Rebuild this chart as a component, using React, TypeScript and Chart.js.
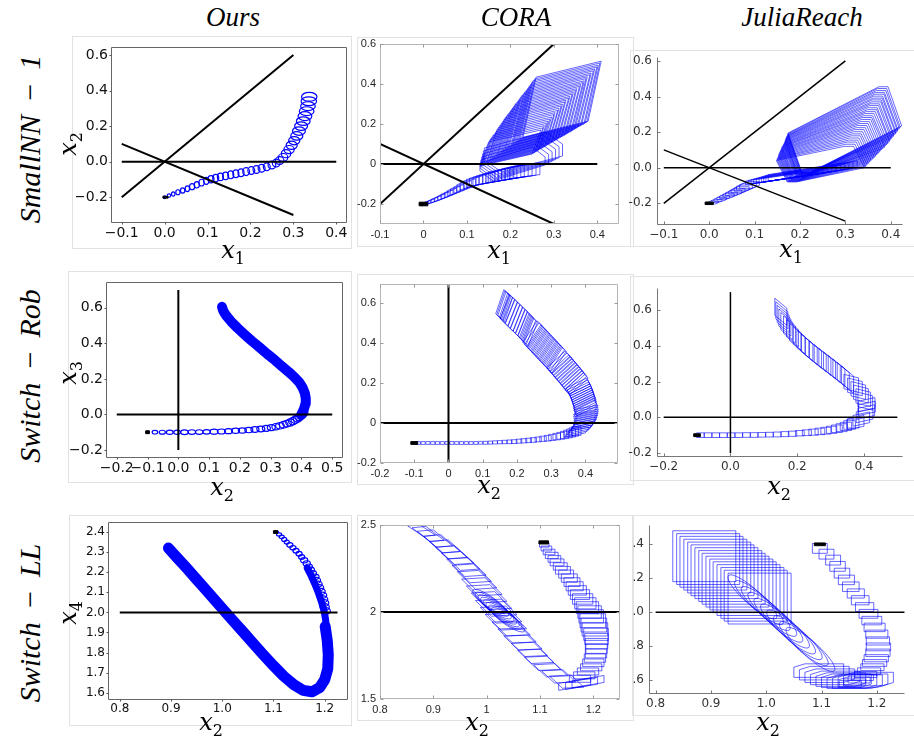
import { useEffect, useRef } from "react";
import { Chart, registerables } from "chart.js";
Chart.register(...registerables);

// ---------------- titles ----------------
const columnTitles = ["Ours", "CORA", "JuliaReach"];
const rowTitles = ["SmallNN − 1", "Switch − Rob", "Switch − LL"];

// ---------------- guide lines ----------------
const nnGuides = [
  { x: [-0.1, 0.3], y: [-0.2, 0.6] },
  { x: [-0.1, 0.3], y: [0.1, -0.3] },
  { x: [-0.1, 0.4], y: [0, 0] },
];
const robGuides = [
  { x: [0, 0], y: [-0.2, 0.7] },
  { x: [-0.2, 0.5], y: [0, 0] },
];
const llGuidesOurs = [{ x: [0.8, 1.225], y: [2, 2] }];
const llGuidesOthers = [{ x: [0.8, 1.25], y: [2, 2] }];

// ---------------- Ours : SmallNN-1 (ellipses) ----------------
const oursNNCx = [0.000,0.010,0.020,0.031,0.042,0.053,0.064,0.075,0.086,0.097,0.108,0.119,0.130,0.142,0.154,0.166,0.178,0.190,0.202,0.214,0.226,0.238,0.250,0.260,0.268,0.276,0.283,0.290,0.296,0.302,0.308,0.313,0.318,0.323,0.327,0.331,0.334,0.336,0.337];
const oursNNCy = [-0.200,-0.191,-0.182,-0.172,-0.162,-0.152,-0.141,-0.130,-0.118,-0.108,-0.099,-0.092,-0.086,-0.080,-0.074,-0.068,-0.062,-0.056,-0.050,-0.044,-0.037,-0.029,-0.019,-0.008,0.006,0.024,0.045,0.068,0.092,0.118,0.145,0.172,0.200,0.228,0.256,0.284,0.312,0.340,0.365];
const oursNNRx = [0.003,0.004,0.004,0.005,0.005,0.005,0.006,0.006,0.006,0.006,0.007,0.007,0.007,0.007,0.007,0.007,0.007,0.008,0.008,0.008,0.008,0.008,0.009,0.009,0.010,0.011,0.011,0.012,0.013,0.013,0.014,0.015,0.015,0.016,0.016,0.017,0.017,0.018,0.018];
const oursNNRy = [0.008,0.010,0.012,0.014,0.015,0.016,0.017,0.018,0.019,0.020,0.020,0.021,0.021,0.021,0.022,0.022,0.022,0.022,0.022,0.022,0.022,0.022,0.022,0.022,0.022,0.022,0.023,0.023,0.023,0.023,0.024,0.024,0.024,0.024,0.025,0.025,0.025,0.025,0.025];

// ---------------- Ours : Switch-Rob ----------------
const oursRobCx = [-0.100,-0.076,-0.052,-0.028,-0.004,0.020,0.044,0.068,0.092,0.116,0.140,0.163,0.186,0.208,0.229,0.249,0.268,0.286,0.302,0.317,0.330,0.342,0.353,0.363,0.372,0.380,0.387,0.393,0.398,0.403,0.407];
const oursRobCy = [-0.100,-0.100,-0.100,-0.100,-0.100,-0.100,-0.099,-0.099,-0.098,-0.097,-0.096,-0.094,-0.092,-0.090,-0.088,-0.085,-0.082,-0.078,-0.074,-0.069,-0.064,-0.058,-0.052,-0.045,-0.038,-0.030,-0.022,-0.014,-0.006,0.002,0.010];
const oursRobRx = [0.005,0.009,0.010,0.011,0.011,0.012,0.012,0.012,0.012,0.013,0.013,0.013,0.013,0.013,0.013,0.013,0.013,0.013,0.013,0.013,0.014,0.014,0.014,0.014,0.014,0.014,0.014,0.014,0.014,0.014,0.014];
const oursRobRy = [0.006,0.010,0.011,0.012,0.012,0.013,0.013,0.013,0.013,0.014,0.014,0.014,0.015,0.015,0.015,0.016,0.016,0.017,0.017,0.018,0.018,0.019,0.019,0.020,0.020,0.021,0.021,0.022,0.022,0.023,0.023];
const oursRobBandX = [0.400,0.408,0.413,0.414,0.411,0.404,0.393,0.377,0.358,0.337,0.314,0.289,0.264,0.239,0.215,0.192,0.172,0.156,0.146,0.142];
const oursRobBandY = [0.000,0.030,0.060,0.090,0.120,0.150,0.180,0.210,0.240,0.270,0.305,0.340,0.377,0.413,0.450,0.487,0.522,0.555,0.583,0.605];

// ---------------- Ours : Switch-LL ----------------
const oursLLBandX = [0.895,0.912,0.930,0.948,0.966,0.984,1.002,1.020,1.040,1.060,1.080,1.100,1.120,1.140,1.158,1.175,1.190,1.200,1.206,1.207,1.205,1.201];
const oursLLBandY = [2.320,2.272,2.222,2.170,2.118,2.066,2.014,1.962,1.905,1.847,1.790,1.735,1.683,1.640,1.612,1.605,1.625,1.665,1.720,1.790,1.860,1.930];
const oursLLUpperBandX = [1.166,1.174,1.181,1.188,1.194,1.199,1.202,1.203];
const oursLLUpperBandY = [2.220,2.180,2.140,2.095,2.050,2.005,1.960,1.920];
const oursLLCx = [1.106,1.111,1.116,1.121,1.126,1.132,1.138,1.144,1.150,1.155,1.160,1.165,1.169,1.173,1.177,1.181,1.184,1.187,1.190,1.193,1.195,1.197,1.199,1.200,1.202];
const oursLLCy = [2.400,2.388,2.376,2.363,2.350,2.336,2.322,2.307,2.292,2.276,2.260,2.244,2.228,2.211,2.194,2.177,2.159,2.141,2.123,2.104,2.085,2.066,2.047,2.027,2.007];
const oursLLRx = [0.004,0.005,0.005,0.005,0.005,0.006,0.006,0.006,0.006,0.006,0.007,0.007,0.007,0.007,0.007,0.008,0.008,0.008,0.008,0.008,0.009,0.009,0.009,0.009,0.009];
const oursLLRy = [0.006,0.008,0.009,0.010,0.010,0.011,0.011,0.012,0.012,0.012,0.013,0.013,0.013,0.014,0.014,0.014,0.015,0.015,0.015,0.016,0.016,0.016,0.017,0.017,0.017];

// ---------------- CORA : SmallNN-1 (zonotopes: cx, cy, generators...) ----------------
const coraNNLowX = [0.006,0.014,0.022,0.030,0.038,0.046,0.054,0.062,0.070,0.078,0.086,0.094,0.102,0.110,0.118,0.126,0.134,0.142,0.150,0.158,0.166,0.174,0.182,0.190,0.198,0.206,0.214,0.222,0.230,0.238];
const coraNNLowY = [-0.196,-0.190,-0.183,-0.176,-0.169,-0.161,-0.153,-0.145,-0.136,-0.128,-0.119,-0.110,-0.102,-0.094,-0.088,-0.083,-0.078,-0.074,-0.070,-0.066,-0.062,-0.058,-0.055,-0.051,-0.048,-0.044,-0.041,-0.038,-0.035,-0.032];
const coraNNLowGx = [0.010,0.011,0.011,0.012,0.012,0.013,0.014,0.014,0.015,0.016,0.016,0.017,0.018,0.018,0.019,0.020,0.020,0.021,0.022,0.022,0.023,0.024,0.024,0.025,0.026,0.026,0.027,0.028,0.029,0.030];
const coraNNLowGy = [0.008,0.008,0.009,0.009,0.010,0.010,0.011,0.011,0.011,0.011,0.011,0.010,0.010,0.010,0.009,0.009,0.009,0.009,0.009,0.009,0.009,0.009,0.009,0.009,0.009,0.009,0.009,0.009,0.009,0.009];
const coraNNLowH = [0.006,0.007,0.008,0.009,0.010,0.011,0.012,0.013,0.014,0.015,0.016,0.017,0.018,0.019,0.020,0.021,0.022,0.023,0.024,0.025,0.026,0.027,0.027,0.028,0.028,0.029,0.029,0.030,0.030,0.030];
const coraNNMid = [
  [0.205,0.000,0.060,0.040,0.000,0.020,0.015,-0.025],[0.210,0.012,0.062,0.040,0.000,0.022,0.016,-0.026],
  [0.215,0.024,0.064,0.040,0.000,0.024,0.017,-0.027],[0.220,0.036,0.066,0.040,0.000,0.026,0.018,-0.028],
  [0.225,0.048,0.068,0.040,0.000,0.028,0.019,-0.029],[0.230,0.060,0.070,0.040,0.000,0.030,0.020,-0.030],
];
const coraNNUp = [
  [0.200,0.080,0.060,0.030,0.010,0.060],[0.207,0.095,0.061,0.031,0.010,0.066],[0.214,0.110,0.062,0.032,0.011,0.072],
  [0.221,0.125,0.063,0.032,0.011,0.078],[0.228,0.140,0.064,0.033,0.011,0.084],[0.235,0.155,0.065,0.034,0.012,0.090],
  [0.242,0.170,0.066,0.034,0.012,0.095],[0.249,0.184,0.067,0.035,0.012,0.100],[0.256,0.198,0.068,0.035,0.013,0.105],
  [0.263,0.212,0.069,0.036,0.013,0.110],[0.270,0.226,0.070,0.036,0.013,0.115],[0.277,0.240,0.071,0.037,0.014,0.120],
  [0.284,0.254,0.072,0.037,0.014,0.125],[0.291,0.268,0.072,0.038,0.014,0.130],[0.298,0.282,0.073,0.038,0.015,0.135],
  [0.305,0.296,0.074,0.039,0.015,0.140],[0.312,0.310,0.075,0.039,0.015,0.145],[0.319,0.324,0.075,0.040,0.015,0.150],
];
const coraNNUpB = [
  [0.204,0.088,0.061,0.030,0.010,0.063],[0.211,0.103,0.062,0.031,0.010,0.069],[0.218,0.118,0.062,0.032,0.011,0.075],
  [0.225,0.133,0.064,0.033,0.011,0.081],[0.232,0.148,0.065,0.033,0.012,0.087],[0.239,0.163,0.066,0.034,0.012,0.093],
  [0.246,0.177,0.067,0.035,0.012,0.098],[0.253,0.191,0.068,0.035,0.013,0.103],[0.260,0.205,0.069,0.036,0.013,0.108],
  [0.267,0.219,0.070,0.036,0.013,0.113],[0.274,0.233,0.071,0.037,0.014,0.118],[0.281,0.247,0.072,0.037,0.014,0.123],
  [0.288,0.261,0.072,0.038,0.014,0.128],[0.295,0.275,0.073,0.038,0.015,0.133],[0.302,0.289,0.074,0.039,0.015,0.138],
  [0.309,0.303,0.075,0.039,0.015,0.143],[0.316,0.317,0.075,0.040,0.015,0.148],
];

// ---------------- JuliaReach : SmallNN-1 ----------------
const juliaNNLow = [
  [0.008,-0.196,0.008,0,0,0.005,0.004,0.004],[0.016,-0.187,0.008,0,0,0.005,0.004,0.004],
  [0.024,-0.178,0.009,0,0,0.006,0.005,0.005],[0.031,-0.169,0.009,0,0,0.006,0.005,0.005],
  [0.039,-0.160,0.010,0,0,0.007,0.006,0.006],[0.046,-0.151,0.010,0,0,0.007,0.006,0.006],
  [0.054,-0.142,0.011,0,0,0.008,0.007,0.007],[0.061,-0.133,0.011,0,0,0.008,0.007,0.007],
  [0.068,-0.124,0.012,0,0,0.009,0.008,0.008],[0.075,-0.115,0.012,0,0,0.009,0.008,0.008],
  [0.082,-0.106,0.013,0,0,0.010,0.009,0.009],[0.089,-0.097,0.013,0,0,0.010,0.009,0.009],
];
const juliaNNMid = [
  [0.160,-0.055,0.080,0.030,0,0.010],[0.168,-0.051,0.082,0.031,0,0.011],[0.176,-0.047,0.084,0.032,0,0.012],
  [0.184,-0.043,0.086,0.033,0,0.013],[0.192,-0.039,0.088,0.034,0,0.014],[0.200,-0.035,0.090,0.035,0,0.015],
  [0.207,-0.031,0.092,0.036,0,0.016],[0.214,-0.027,0.094,0.037,0,0.017],[0.221,-0.023,0.096,0.038,0,0.018],
  [0.228,-0.019,0.098,0.039,0,0.019],
];
const juliaNNUp = [
  [0.245,0.020,0.075,0.040,0.012,-0.060,0.010,0],[0.249,0.034,0.077,0.046,0.012,-0.064,0.010,0],
  [0.253,0.048,0.079,0.052,0.012,-0.067,0.010,0],[0.257,0.062,0.081,0.058,0.013,-0.070,0.010,0],
  [0.261,0.076,0.083,0.064,0.013,-0.074,0.010,0],[0.265,0.090,0.085,0.070,0.013,-0.077,0.010,0],
  [0.269,0.103,0.087,0.076,0.013,-0.080,0.010,0],[0.273,0.116,0.089,0.082,0.014,-0.084,0.010,0],
  [0.277,0.129,0.090,0.088,0.014,-0.087,0.010,0],[0.281,0.142,0.092,0.094,0.014,-0.090,0.010,0],
  [0.284,0.155,0.093,0.100,0.014,-0.094,0.010,0],[0.287,0.167,0.095,0.106,0.014,-0.097,0.010,0],
  [0.290,0.179,0.096,0.112,0.015,-0.100,0.010,0],[0.293,0.191,0.097,0.118,0.015,-0.104,0.010,0],
  [0.296,0.203,0.098,0.124,0.015,-0.107,0.010,0],[0.299,0.215,0.100,0.130,0.015,-0.110,0.010,0],
];
const juliaNNUpB = [
  [0.247,0.027,0.076,0.043,0.012,-0.062,0.010,0],[0.251,0.041,0.078,0.049,0.012,-0.065,0.010,0],
  [0.255,0.055,0.080,0.055,0.012,-0.069,0.010,0],[0.259,0.069,0.082,0.061,0.013,-0.072,0.010,0],
  [0.263,0.083,0.084,0.067,0.013,-0.075,0.010,0],[0.267,0.096,0.086,0.073,0.013,-0.079,0.010,0],
  [0.271,0.110,0.088,0.079,0.013,-0.082,0.010,0],[0.275,0.122,0.089,0.085,0.014,-0.085,0.010,0],
  [0.279,0.135,0.091,0.091,0.014,-0.089,0.010,0],[0.282,0.148,0.092,0.097,0.014,-0.092,0.010,0],
  [0.285,0.161,0.094,0.103,0.014,-0.095,0.010,0],[0.288,0.173,0.095,0.109,0.014,-0.099,0.010,0],
  [0.291,0.185,0.096,0.115,0.015,-0.102,0.010,0],[0.294,0.197,0.097,0.121,0.015,-0.105,0.010,0],
  [0.297,0.209,0.099,0.127,0.015,-0.109,0.010,0],
];

// ---------------- CORA : Switch-Rob ----------------
const coraRobBoxX = [-0.088,-0.074,-0.060,-0.046,-0.032,-0.018,-0.004,0.010,0.024,0.038,0.052,0.066,0.080,0.094,0.108,0.122,0.136,0.150,0.164,0.178,0.192,0.206,0.220,0.234,0.248,0.262,0.276,0.290,0.303,0.316,0.328,0.339,0.349,0.358,0.366,0.373];
const coraRobBoxY = [-0.100,-0.100,-0.100,-0.100,-0.100,-0.100,-0.100,-0.100,-0.100,-0.100,-0.100,-0.100,-0.100,-0.099,-0.099,-0.098,-0.097,-0.096,-0.095,-0.094,-0.093,-0.091,-0.089,-0.087,-0.085,-0.082,-0.079,-0.076,-0.072,-0.068,-0.064,-0.060,-0.055,-0.050,-0.045,-0.040];
const coraRobBoxHx = [0.006,0.006,0.006,0.006,0.006,0.006,0.006,0.006,0.006,0.006,0.006,0.006,0.006,0.006,0.0065,0.0065,0.007,0.007,0.0075,0.0075,0.008,0.008,0.0085,0.0085,0.009,0.009,0.0095,0.010,0.0105,0.011,0.0115,0.012,0.0125,0.013,0.0135,0.014];
const coraRobBoxHy = [0.007,0.007,0.007,0.007,0.007,0.007,0.007,0.007,0.007,0.007,0.007,0.007,0.007,0.007,0.0075,0.0075,0.008,0.008,0.0085,0.009,0.0095,0.010,0.0105,0.011,0.0115,0.012,0.013,0.014,0.015,0.016,0.017,0.018,0.019,0.020,0.021,0.022];
const coraRobBand = [
  [0.375,-0.045,0.030,0.010,0.006,0.015],[0.388,-0.025,0.030,0.010,0.006,0.015],[0.396,-0.005,0.030,0.010,0.006,0.015],
  [0.400,0.015,0.030,0.010,0.006,0.015],[0.402,0.035,0.030,0.010,0.006,0.015],[0.401,0.055,0.030,0.010,0.006,0.015],
  [0.400,0.075,0.030,0.025,-0.004,0.015],[0.398,0.095,0.030,0.025,-0.004,0.015],[0.395,0.115,0.030,0.025,-0.004,0.015],
  [0.391,0.135,0.030,0.025,-0.004,0.015],[0.387,0.155,0.030,0.025,-0.004,0.015],[0.381,0.175,0.030,0.025,-0.004,0.015],
  [0.374,0.195,0.027,0.042,-0.007,0.013],[0.365,0.215,0.027,0.042,-0.007,0.013],[0.356,0.235,0.027,0.042,-0.007,0.013],
  [0.346,0.255,0.027,0.042,-0.007,0.013],[0.336,0.275,0.027,0.042,-0.007,0.013],[0.326,0.295,0.027,0.042,-0.007,0.013],
  [0.316,0.315,0.021,0.054,-0.007,0.012],[0.305,0.335,0.021,0.054,-0.007,0.012],[0.294,0.355,0.021,0.054,-0.007,0.012],
  [0.283,0.375,0.021,0.054,-0.007,0.012],[0.272,0.395,0.021,0.054,-0.007,0.012],[0.261,0.415,0.021,0.054,-0.007,0.012],
  [0.250,0.435,0.021,0.054,-0.007,0.012],[0.239,0.455,0.014,0.060,-0.007,0.012],[0.228,0.475,0.014,0.060,-0.007,0.012],
  [0.217,0.495,0.014,0.060,-0.007,0.012],[0.202,0.520,0.014,0.060,-0.007,0.012],[0.187,0.545,0.014,0.060,-0.007,0.012],
  [0.172,0.570,0.014,0.060,-0.007,0.012],[0.163,0.585,0.012,0.060,-0.007,0.012],[0.157,0.595,0.012,0.060,-0.007,0.012],
];
const coraRobBandB = [
  [0.382,-0.035,0.030,0.010,0.006,0.015],[0.392,-0.015,0.030,0.010,0.006,0.015],[0.398,0.005,0.030,0.010,0.006,0.015],
  [0.401,0.025,0.030,0.010,0.006,0.015],[0.402,0.045,0.030,0.010,0.006,0.015],[0.401,0.065,0.030,0.010,0.006,0.015],
  [0.399,0.085,0.030,0.025,-0.004,0.015],[0.397,0.105,0.030,0.025,-0.004,0.015],[0.393,0.125,0.030,0.025,-0.004,0.015],
  [0.389,0.145,0.030,0.025,-0.004,0.015],[0.384,0.165,0.030,0.025,-0.004,0.015],[0.378,0.185,0.030,0.025,-0.004,0.015],
  [0.370,0.205,0.027,0.042,-0.007,0.013],[0.361,0.225,0.027,0.042,-0.007,0.013],[0.351,0.245,0.027,0.042,-0.007,0.013],
  [0.341,0.265,0.027,0.042,-0.007,0.013],[0.331,0.285,0.027,0.042,-0.007,0.013],[0.321,0.305,0.027,0.042,-0.007,0.013],
  [0.311,0.325,0.021,0.054,-0.007,0.012],[0.300,0.345,0.021,0.054,-0.007,0.012],[0.289,0.365,0.021,0.054,-0.007,0.012],
  [0.278,0.385,0.021,0.054,-0.007,0.012],[0.267,0.405,0.021,0.054,-0.007,0.012],[0.256,0.425,0.021,0.054,-0.007,0.012],
  [0.245,0.445,0.021,0.054,-0.007,0.012],[0.234,0.465,0.014,0.060,-0.007,0.012],[0.223,0.485,0.014,0.060,-0.007,0.012],
  [0.210,0.507,0.014,0.060,-0.007,0.012],[0.195,0.532,0.014,0.060,-0.007,0.012],[0.180,0.557,0.014,0.060,-0.007,0.012],
  [0.168,0.578,0.012,0.060,-0.007,0.012],[0.160,0.590,0.012,0.060,-0.007,0.012],
];

// ---------------- JuliaReach : Switch-Rob ----------------
const juliaRobBoxX = [-0.090,-0.067,-0.044,-0.021,0.002,0.025,0.048,0.071,0.094,0.117,0.140,0.163,0.186,0.208,0.229,0.249,0.268,0.286,0.303,0.319,0.333,0.346,0.357,0.367];
const juliaRobBoxY = [-0.100,-0.100,-0.100,-0.100,-0.100,-0.100,-0.099,-0.099,-0.098,-0.097,-0.096,-0.094,-0.092,-0.089,-0.086,-0.083,-0.079,-0.075,-0.070,-0.064,-0.058,-0.051,-0.043,-0.035];
const juliaRobBoxHx = [0.0115,0.0115,0.0115,0.0115,0.0115,0.0115,0.0115,0.0115,0.0115,0.0115,0.012,0.012,0.0125,0.013,0.0135,0.014,0.0145,0.015,0.0155,0.016,0.0165,0.017,0.0175,0.018];
const juliaRobBoxHy = [0.013,0.013,0.013,0.013,0.013,0.013,0.013,0.013,0.013,0.013,0.0135,0.014,0.0145,0.015,0.016,0.017,0.018,0.019,0.020,0.021,0.022,0.023,0.024,0.025];
const juliaRobBand = [
  [0.375,-0.03,0,0.030,0.025,0.010],[0.392,-0.01,0,0.030,0.025,0.010],[0.402,0.01,0,0.030,0.025,0.010],
  [0.407,0.03,0,0.030,0.025,0.010],[0.409,0.05,0,0.030,0.025,0.010],[0.408,0.07,0,0.030,0.025,0.010],
  [0.404,0.09,0,0.040,0.022,-0.010],[0.398,0.11,0,0.040,0.022,-0.010],[0.391,0.13,0,0.040,0.022,-0.010],
  [0.383,0.15,0,0.040,0.022,-0.010],[0.373,0.17,0,0.040,0.022,-0.010],[0.362,0.19,0,0.040,0.022,-0.010],
  [0.351,0.21,0,0.048,0.018,-0.028],[0.338,0.23,0,0.048,0.018,-0.028],[0.325,0.25,0,0.048,0.018,-0.028],
  [0.311,0.27,0,0.048,0.018,-0.028],[0.297,0.29,0,0.048,0.018,-0.028],[0.283,0.31,0,0.048,0.018,-0.028],
  [0.269,0.33,0,0.048,0.018,-0.028],[0.255,0.35,0,0.048,0.018,-0.028],[0.242,0.37,0,0.048,0.018,-0.028],
  [0.229,0.39,0,0.048,0.018,-0.028],[0.217,0.41,0,0.048,0.018,-0.028],[0.206,0.43,0,0.048,0.018,-0.028],
  [0.195,0.45,0,0.048,0.018,-0.028],[0.186,0.47,0,0.048,0.018,-0.028],[0.177,0.49,0,0.048,0.018,-0.028],
  [0.169,0.51,0,0.048,0.018,-0.028],[0.163,0.53,0,0.048,0.018,-0.028],[0.158,0.55,0,0.048,0.018,-0.028],
  [0.154,0.57,0,0.048,0.018,-0.028],[0.151,0.59,0,0.048,0.018,-0.028],
];

// ---------------- CORA : Switch-LL ----------------
const coraLLBoxX = [1.108,1.112,1.117,1.122,1.127,1.132,1.138,1.143,1.149,1.155,1.160,1.165,1.170,1.175,1.180,1.185,1.189,1.193,1.196,1.199,1.201,1.203,1.205,1.206,1.206,1.206,1.205,1.203,1.200,1.196,1.190,1.183,1.175];
const coraLLBoxY = [2.385,2.365,2.345,2.325,2.305,2.285,2.262,2.240,2.218,2.195,2.172,2.148,2.124,2.100,2.075,2.050,2.025,2.000,1.975,1.950,1.925,1.900,1.872,1.845,1.818,1.790,1.762,1.735,1.708,1.682,1.658,1.636,1.616];
const coraLLBoxHx = [0.009,0.010,0.011,0.012,0.012,0.013,0.013,0.014,0.014,0.015,0.015,0.016,0.017,0.018,0.019,0.020,0.021,0.022,0.023,0.024,0.024,0.024,0.023,0.022,0.021,0.020,0.020,0.020,0.020,0.020,0.020,0.020,0.020];
const coraLLBoxHy = [0.012,0.014,0.016,0.018,0.019,0.020,0.021,0.022,0.023,0.024,0.025,0.026,0.027,0.028,0.030,0.032,0.034,0.036,0.038,0.040,0.040,0.038,0.035,0.032,0.030,0.028,0.026,0.024,0.022,0.020,0.020,0.020,0.020];
const coraLLBranch = [
  [1.150,1.600,-0.012,0.035,0.020,0.003],[1.135,1.630,-0.012,0.035,0.020,0.003],[1.120,1.665,-0.012,0.035,0.020,0.003],
  [1.105,1.705,-0.013,0.038,0.021,0.003],[1.092,1.745,-0.013,0.038,0.021,0.003],[1.080,1.785,-0.013,0.038,0.021,0.003],
  [1.068,1.825,-0.014,0.040,0.022,0.003],[1.057,1.865,-0.014,0.040,0.022,0.003],[1.046,1.905,-0.014,0.040,0.022,0.003],
  [1.036,1.945,-0.015,0.045,0.024,0.004],[1.027,1.985,-0.015,0.045,0.024,0.004],[1.018,2.025,-0.015,0.045,0.024,0.004],
  [1.009,2.065,-0.016,0.048,0.022,0.004],[1.000,2.105,-0.016,0.048,0.022,0.004],[0.991,2.145,-0.016,0.048,0.022,0.004],
  [0.982,2.185,-0.017,0.050,0.020,0.004],[0.972,2.222,-0.017,0.050,0.020,0.004],[0.962,2.258,-0.017,0.050,0.020,0.004],
  [0.951,2.293,-0.018,0.050,0.018,0.004],[0.940,2.327,-0.018,0.050,0.018,0.004],[0.928,2.360,-0.018,0.050,0.018,0.004],
  [0.916,2.392,-0.018,0.048,0.016,0.004],[0.903,2.422,-0.018,0.046,0.015,0.004],[0.890,2.448,-0.017,0.040,0.013,0.004],
  [0.878,2.468,-0.015,0.030,0.011,0.004],
];
const coraLLBottom = [
  [1.165,1.585,0.030,0.015,0,0.020],[1.178,1.590,0.030,0.015,0,0.020],[1.190,1.600,0.030,0.015,0,0.020],
];
const coraLLRings = [
  [1.005,2.060,-0.028,0.070,0.014,0.006],[1.010,2.045,-0.028,0.070,0.014,0.006],[1.015,2.030,-0.028,0.070,0.014,0.006],
  [1.020,2.015,-0.028,0.070,0.014,0.006],[1.025,2.000,-0.028,0.070,0.014,0.006],[1.030,1.985,-0.028,0.070,0.014,0.006],
  [1.035,1.970,-0.028,0.070,0.014,0.006],[1.040,1.955,-0.028,0.070,0.014,0.006],
];

// ---------------- JuliaReach : Switch-LL ----------------
const juliaLLBoxX = [1.097,1.109,1.121,1.129,1.137,1.145,1.153,1.162,1.170,1.178,1.185,1.191,1.196,1.200,1.202,1.203,1.202,1.199,1.196,1.192,1.186,1.180,1.174,1.168,1.160,1.152];
const juliaLLBoxY = [2.376,2.342,2.307,2.270,2.230,2.190,2.150,2.110,2.070,2.030,1.990,1.950,1.910,1.870,1.830,1.795,1.760,1.728,1.700,1.675,1.652,1.632,1.615,1.600,1.588,1.578];
const juliaLLBoxHx = [0.0135,0.0135,0.0135,0.014,0.014,0.0145,0.015,0.0155,0.016,0.0165,0.017,0.018,0.019,0.020,0.021,0.022,0.022,0.022,0.022,0.021,0.021,0.020,0.020,0.020,0.020,0.020];
const juliaLLBoxHy = [0.029,0.029,0.029,0.029,0.029,0.028,0.028,0.027,0.027,0.026,0.026,0.025,0.025,0.024,0.024,0.023,0.022,0.021,0.020,0.020,0.019,0.018,0.018,0.018,0.018,0.018];
const juliaLLRectX = [0.888,0.895,0.901,0.908,0.915,0.921,0.928,0.935,0.941,0.948,0.955,0.961,0.968,0.975,0.981,0.988];
const juliaLLRectY = [2.330,2.313,2.297,2.280,2.263,2.247,2.230,2.213,2.197,2.180,2.163,2.147,2.130,2.113,2.097,2.080];
const juliaLLRectHx = 0.057;
const juliaLLRectHy = 0.150;
const juliaLLRings = [
  [0.975,2.090,-0.040,0.130,0.019,0.005],[0.987,2.056,-0.040,0.130,0.019,0.005],[0.999,2.021,-0.040,0.130,0.019,0.005],
  [1.011,1.987,-0.040,0.130,0.019,0.005],[1.022,1.952,-0.040,0.130,0.019,0.005],[1.034,1.918,-0.040,0.130,0.019,0.005],
  [1.045,1.883,-0.040,0.130,0.019,0.005],[1.057,1.849,-0.040,0.130,0.019,0.005],[1.068,1.814,-0.040,0.130,0.019,0.005],
  [1.080,1.780,-0.040,0.130,0.019,0.005],
];
const juliaLLBottom = [
  [1.095,1.655,0.035,0,0,0.030,0.010,0.010],[1.105,1.640,0.035,0,0,0.030,0.010,0.010],[1.115,1.625,0.035,0,0,0.030,0.010,0.010],
  [1.125,1.612,0.035,0,0,0.030,0.010,0.010],[1.135,1.602,0.035,0,0,0.030,0.010,0.010],[1.145,1.595,0.035,0,0,0.030,0.010,0.010],
  [1.155,1.590,0.035,0,0,0.030,0.010,0.010],[1.165,1.590,0.035,0,0,0.030,0.010,0.010],[1.175,1.595,0.035,0,0,0.030,0.010,0.010],
  [1.185,1.605,0.035,0,0,0.030,0.010,0.010],
];

// ---------------- initial sets (black) ----------------
const initNNOurs = [[0.002,-0.200,0.006,0,0,0.005]];
const initNNCora = [[0.000,-0.200,0.010,0,0,0.009]];
const initNNJulia = [[0.000,-0.200,0.009,0,0,0.007]];
const initRobOurs = [[-0.100,-0.100,0.006,0,0,0.008]];
const initRobCora = [[-0.100,-0.100,0.010,0,0,0.007]];
const initRobJulia = [[-0.100,-0.100,0.010,0,0,0.008]];
const initLLOurs = [[1.104,2.400,0.004,0,0,0.007]];
const initLLCora = [[1.107,2.400,0.009,0,0,0.009]];
const initLLJulia = [[1.097,2.400,0.010,0,0,0.008]];

// ---------------- ticks ----------------
const nnMplXTicks = [-0.1, 0, 0.1, 0.2, 0.3, 0.4];
const nnMplXLabels = ["−0.1", "0.0", "0.1", "0.2", "0.3", "0.4"];
const nnYTicks = [-0.2, 0, 0.2, 0.4, 0.6];
const nnMplYLabels = ["−0.2", "0.0", "0.2", "0.4", "0.6"];
const nnCoraXLabels = ["-0.1", "0", "0.1", "0.2", "0.3", "0.4"];
const nnCoraYLabels = ["-0.2", "0", "0.2", "0.4", "0.6"];
const nnJuliaYLabels = ["-0.2", "0.0", "0.2", "0.4", "0.6"];
const robOursXTicks = [-0.2, -0.1, 0, 0.1, 0.2, 0.3, 0.4, 0.5];
const robOursXLabels = ["−0.2", "−0.1", "0.0", "0.1", "0.2", "0.3", "0.4", "0.5"];
const robYTicks = [-0.2, 0, 0.2, 0.4, 0.6];
const robOursYLabels = ["−0.2", "0.0", "0.2", "0.4", "0.6"];
const robCoraXTicks = [-0.2, -0.1, 0, 0.1, 0.2, 0.3, 0.4];
const robCoraXLabels = ["-0.2", "-0.1", "0", "0.1", "0.2", "0.3", "0.4"];
const robCoraYLabels = ["-0.2", "0", "0.2", "0.4", "0.6"];
const robJuliaXTicks = [-0.2, 0, 0.2, 0.4];
const robJuliaXLabels = ["−0.2", "0.0", "0.2", "0.4"];
const robJuliaYLabels = ["-0.2", "0.0", "0.2", "0.4", "0.6"];
const llXTicks = [0.8, 0.9, 1.0, 1.1, 1.2];
const llXLabels = ["0.8", "0.9", "1.0", "1.1", "1.2"];
const llCoraXLabels = ["0.8", "0.9", "1", "1.1", "1.2"];
const llOursYTicks = [1.6, 1.7, 1.8, 1.9, 2.0, 2.1, 2.2, 2.3, 2.4];
const llOursYLabels = ["1.6", "1.7", "1.8", "1.9", "2.0", "2.1", "2.2", "2.3", "2.4"];
const llCoraYTicks = [1.5, 2, 2.5];
const llCoraYLabels = ["1.5", "2", "2.5"];
const llJuliaYTicks = [1.6, 1.8, 2.0, 2.2, 2.4];
const llJuliaYLabels = ["1.6", "1.8", "2.0", "2.2", "2.4"];

// ---------------- helpers ----------------
const BLUE = "rgb(0,0,255)";
const boxes = (xs: number[], ys: number[], hx: number[], hy: number[]) => xs.map((x, i) => [x, ys[i], hx[i], 0, 0, hy[i]]);
const rings = (xs: number[], ys: number[], rx: number[], ry: number[]) => xs.map((x, i) => [x, ys[i], rx[i], 0, 0, ry[i]]);
const pts = (xs: number[], ys: number[]) => xs.map((x, i) => ({ x, y: ys[i] }));
const coraNNLow = coraNNLowX.map((x, i) => [x, coraNNLowY[i], coraNNLowGx[i], coraNNLowGy[i], 0, coraNNLowH[i]]);

const STY: any = {
  mpl: { font: '"DejaVu Sans", sans-serif', size: 14, color: "#111", frame: "#666", tick: "#555", tickLen: 2, guideW: 2, setW: 1.2, setColor: BLUE, xPad: 2, yPad: 3 },
  matlab: { font: '"Liberation Sans", Arial, sans-serif', size: 11, color: "#262626", frame: "#b5b5b5", tick: "#999", tickLen: 3, guideW: 2, setW: 0.6, setColor: BLUE, xPad: 4, yPad: 4 },
  julia: { font: '"DejaVu Sans", sans-serif', size: 12, color: "#333", frame: "#777", tick: "#777", tickLen: 3, guideW: 1.5, setW: 0.7, setColor: "rgba(0,0,255,0.85)", xPad: 3, yPad: 5 },
};

function zonoVertices(z: number[]) {
  const gens: number[][] = [];
  for (let i = 2; i + 1 < z.length; i += 2) {
    let gx = z[i], gy = z[i + 1];
    if (gx === 0 && gy === 0) continue;
    if (gy < 0 || (gy === 0 && gx < 0)) { gx = -gx; gy = -gy; }
    gens.push([gx, gy]);
  }
  gens.sort((a, b) => Math.atan2(a[1], a[0]) - Math.atan2(b[1], b[0]));
  let px = z[0], py = z[1];
  for (const g of gens) { px -= g[0]; py -= g[1]; }
  const v = [[px, py]];
  for (const g of gens) { px += 2 * g[0]; py += 2 * g[1]; v.push([px, py]); }
  for (const g of gens) { px -= 2 * g[0]; py -= 2 * g[1]; v.push([px, py]); }
  return v;
}

type Panel = any;

const panels: Panel[] = [
  { id: "p1", style: "mpl", cv: [76, 40, 280, 206], box: [111, 47, 347, 223], xr: [-0.125, 0.425], yr: [-0.345, 0.645],
    xt: nnMplXTicks, xl: nnMplXLabels, yt: nnYTicks, yl: nnMplYLabels, guides: nnGuides,
    ellipses: rings(oursNNCx, oursNNCy, oursNNRx, oursNNRy), zonos: [], bands: [], init: initNNOurs },
  { id: "p2", style: "matlab", cv: [350, 37, 284, 208], box: [380, 44, 619, 224], xr: [-0.1, 0.45], yr: [-0.3, 0.6],
    xt: nnMplXTicks, xl: nnCoraXLabels, yt: nnYTicks, yl: nnCoraYLabels, guides: nnGuides,
    ellipses: [], zonos: [...coraNNLow, ...coraNNMid, ...coraNNUp, ...coraNNUpB], bands: [], init: initNNCora },
  { id: "p3", style: "julia", cv: [626, 50, 288, 197], box: [657, 57, 903, 225], xr: [-0.115, 0.427], yr: [-0.322, 0.622],
    xt: nnMplXTicks, xl: nnMplXLabels, yt: nnYTicks, yl: nnJuliaYLabels, guides: nnGuides,
    ellipses: [], zonos: [...juliaNNLow, ...juliaNNMid, ...juliaNNUp, ...juliaNNUpB], bands: [], init: initNNJulia },
  { id: "p4", style: "mpl", cv: [60, 275, 296, 208], box: [106, 282, 343, 458], xr: [-0.235, 0.535], yr: [-0.245, 0.745],
    xt: robOursXTicks, xl: robOursXLabels, yt: robYTicks, yl: robOursYLabels, guides: robGuides,
    ellipses: rings(oursRobCx, oursRobCy, oursRobRx, oursRobRy), zonos: [],
    bands: [{ x: oursRobBandX, y: oursRobBandY, w: 10 }], init: initRobOurs },
  { id: "p5", style: "matlab", cv: [346, 277, 288, 208], box: [380, 284, 618, 463], xr: [-0.2, 0.495], yr: [-0.2, 0.695],
    xt: robCoraXTicks, xl: robCoraXLabels, yt: robYTicks, yl: robCoraYLabels, guides: robGuides,
    ellipses: [], zonos: [...boxes(coraRobBoxX, coraRobBoxY, coraRobBoxHx, coraRobBoxHy), ...coraRobBand, ...coraRobBandB], bands: [], init: initRobCora },
  { id: "p6", style: "julia", cv: [626, 281, 288, 198], box: [657, 288, 903, 457], xr: [-0.22, 0.517], yr: [-0.222, 0.723],
    xt: robJuliaXTicks, xl: robJuliaXLabels, yt: robYTicks, yl: robJuliaYLabels, guides: robGuides,
    ellipses: [], zonos: [...boxes(juliaRobBoxX, juliaRobBoxY, juliaRobBoxHx, juliaRobBoxHy), ...juliaRobBand], bands: [], init: initRobJulia },
  { id: "p7", style: "mpl", cv: [70, 515, 286, 208], box: [108, 522, 348, 700], xr: [0.777, 1.2455], yr: [1.564, 2.45],
    xt: llXTicks, xl: llXLabels, yt: llOursYTicks, yl: llOursYLabels, guides: llGuidesOurs, fontSize: 12,
    ellipses: rings(oursLLCx, oursLLCy, oursLLRx, oursLLRy), zonos: [],
    bands: [{ x: oursLLBandX, y: oursLLBandY, w: 11 }, { x: oursLLUpperBandX, y: oursLLUpperBandY, w: 7 }], init: initLLOurs },
  { id: "p8", style: "matlab", cv: [346, 516, 288, 206], box: [380, 525, 620, 699], xr: [0.8, 1.25], yr: [1.5, 2.5],
    xt: llXTicks, xl: llCoraXLabels, yt: llCoraYTicks, yl: llCoraYLabels, guides: llGuidesOthers,
    ellipses: coraLLRings, zonos: [...boxes(coraLLBoxX, coraLLBoxY, coraLLBoxHx, coraLLBoxHy), ...coraLLBranch, ...coraLLBottom], bands: [], init: initLLCora },
  { id: "p9", style: "julia", cv: [632, 516, 282, 200], box: [649, 525, 905, 694], xr: [0.788, 1.251], yr: [1.517, 2.514],
    xt: llXTicks, xl: llXLabels, yt: llJuliaYTicks, yl: llJuliaYLabels, guides: llGuidesOthers,
    ellipses: juliaLLRings,
    zonos: [...boxes(juliaLLBoxX, juliaLLBoxY, juliaLLBoxHx, juliaLLBoxHy),
      ...juliaLLRectX.map((x, i) => [x, juliaLLRectY[i], juliaLLRectHx, 0, 0, juliaLLRectHy]), ...juliaLLBottom],
    bands: [], init: initLLJulia },
];

function makeChart(canvas: HTMLCanvasElement, p: Panel) {
  const s = STY[p.style];
  const [cx, cy, cw, ch] = p.cv;
  const [L, T, R, B] = p.box;
  const yAxisW = L - cx, padTop = T - cy, padRight = cx + cw - R, xAxisH = cy + ch - B;
  const fontSize = p.fontSize || s.size;
  const datasets: any[] = [];
  p.guides.forEach((g: any) => datasets.push({ data: pts(g.x, g.y), showLine: true, borderColor: "#000", borderWidth: s.guideW, pointRadius: 0, fill: false }));
  p.bands.forEach((b: any) => datasets.push({ data: pts(b.x, b.y), showLine: true, borderColor: BLUE, borderWidth: b.w, pointRadius: 0, fill: false, borderCapStyle: "round", borderJoinStyle: "round" }));

  const plugin = {
    id: "reach_" + p.id,
    beforeDatasetsDraw(chart: any) {
      const { ctx, chartArea: a } = chart;
      const xs = chart.scales.x, ys = chart.scales.y;
      const X = (v: number) => xs.getPixelForValue(v), Y = (v: number) => ys.getPixelForValue(v);
      ctx.save();
      ctx.beginPath(); ctx.rect(a.left, a.top, a.right - a.left, a.bottom - a.top); ctx.clip();
      ctx.strokeStyle = s.setColor; ctx.lineWidth = s.setW;
      for (const z of p.zonos) {
        const vs = zonoVertices(z);
        ctx.beginPath();
        vs.forEach((v: number[], i: number) => (i ? ctx.lineTo(X(v[0]), Y(v[1])) : ctx.moveTo(X(v[0]), Y(v[1]))));
        ctx.closePath(); ctx.stroke();
      }
      for (const e of p.ellipses) {
        const c0x = X(e[0]), c0y = Y(e[1]);
        ctx.save();
        ctx.beginPath();
        ctx.transform(X(e[0] + e[2]) - c0x, Y(e[1] + e[3]) - c0y, X(e[0] + e[4]) - c0x, Y(e[1] + e[5]) - c0y, c0x, c0y);
        ctx.arc(0, 0, 1, 0, Math.PI * 2);
        ctx.restore();
        ctx.stroke();
      }
      ctx.restore();
    },
    afterDatasetsDraw(chart: any) {
      const { ctx } = chart;
      const xs = chart.scales.x, ys = chart.scales.y;
      ctx.save();
      ctx.fillStyle = "#000"; ctx.strokeStyle = "#000"; ctx.lineWidth = 1;
      for (const z of p.init) {
        const vs = zonoVertices(z);
        ctx.beginPath();
        vs.forEach((v: number[], i: number) => (i ? ctx.lineTo(xs.getPixelForValue(v[0]), ys.getPixelForValue(v[1])) : ctx.moveTo(xs.getPixelForValue(v[0]), ys.getPixelForValue(v[1]))));
        ctx.closePath(); ctx.fill(); ctx.stroke();
      }
      ctx.restore();
    },
    afterDraw(chart: any) {
      const { ctx, chartArea: a } = chart;
      const xs = chart.scales.x, ys = chart.scales.y;
      const l = Math.round(a.left) + 0.5, t = Math.round(a.top) + 0.5, r = Math.round(a.right) - 0.5, b = Math.round(a.bottom) - 0.5;
      ctx.save();
      ctx.lineWidth = 1;
      ctx.strokeStyle = s.frame;
      ctx.beginPath();
      if (p.style === "julia") { ctx.moveTo(l, t); ctx.lineTo(l, b); ctx.lineTo(r, b); }
      else ctx.rect(l, t, r - l, b - t);
      ctx.stroke();
      ctx.strokeStyle = s.tick;
      ctx.beginPath();
      const dir = p.style === "mpl" ? 1 : -1;
      const tl = s.tickLen;
      p.xt.forEach((v: number) => {
        const x = Math.round(xs.getPixelForValue(v)) + 0.5;
        ctx.moveTo(x, b); ctx.lineTo(x, b + dir * tl);
        if (p.style === "matlab") { ctx.moveTo(x, t); ctx.lineTo(x, t + tl); }
      });
      p.yt.forEach((v: number) => {
        const y = Math.round(ys.getPixelForValue(v)) + 0.5;
        ctx.moveTo(l, y); ctx.lineTo(l - dir * tl, y);
        if (p.style === "matlab") { ctx.moveTo(r, y); ctx.lineTo(r - tl, y); }
      });
      ctx.stroke();
      ctx.restore();
    },
  };

  const tickFont = { family: s.font, size: fontSize };
  return new Chart(canvas, {
    type: "scatter",
    data: { datasets },
    options: {
      animation: false,
      responsive: false,
      maintainAspectRatio: false,
      devicePixelRatio: 1,
      events: [],
      layout: { padding: { top: padTop, right: padRight, left: 0, bottom: 0 } },
      plugins: { legend: { display: false }, tooltip: { enabled: false } },
      scales: {
        x: {
          type: "linear", min: p.xr[0], max: p.xr[1],
          afterBuildTicks: (sc: any) => { sc.ticks = p.xt.map((v: number) => ({ value: v })); },
          afterFit: (sc: any) => { sc.height = xAxisH; sc.paddingLeft = 0; sc.paddingRight = 0; },
          grid: { display: false, drawTicks: false },
          border: { display: false },
          ticks: { autoSkip: false, maxRotation: 0, minRotation: 0, padding: s.xPad, font: tickFont, color: s.color, callback: (_v: any, i: number) => p.xl[i] },
        },
        y: {
          type: "linear", min: p.yr[0], max: p.yr[1],
          afterBuildTicks: (sc: any) => { sc.ticks = p.yt.map((v: number) => ({ value: v })); },
          afterFit: (sc: any) => { sc.width = yAxisW; sc.paddingTop = 0; sc.paddingBottom = 0; },
          grid: { display: false, drawTicks: false },
          border: { display: false },
          ticks: { autoSkip: false, padding: s.yPad, font: tickFont, color: s.color, callback: (_v: any, i: number) => p.yl[i] },
        },
      },
    } as any,
    plugins: [plugin],
  } as any);
}

function PanelCanvas({ p }: { p: Panel }) {
  const ref = useRef<HTMLCanvasElement>(null);
  useEffect(() => {
    const c = makeChart(ref.current as HTMLCanvasElement, p);
    return () => c.destroy();
  }, [p]);
  const [x, y, w, h] = p.cv;
  return <canvas ref={ref} width={w} height={h} style={{ position: "absolute", left: x, top: y, width: w, height: h }} />;
}

const frames = [
  [72, 36, 280, 213], [357, 37, 277, 210], [630, 50, 290, 197],
  [68, 271, 284, 212], [357, 274, 277, 211], [630, 276, 290, 205],
  [69, 515, 283, 211], [357, 515, 277, 206], [632, 515, 290, 201],
];

const xTitles = [
  { x: 233, y: 250, sub: "1" }, { x: 499, y: 250, sub: "1" }, { x: 791, y: 249, sub: "1" },
  { x: 222, y: 487, sub: "2" }, { x: 489, y: 485, sub: "2" }, { x: 779, y: 486, sub: "2" },
  { x: 211, y: 722, sub: "2" }, { x: 477, y: 722, sub: "2" }, { x: 768, y: 722, sub: "2" },
];
const yTitles = [
  { x: 68, y: 144, sub: "2" }, { x: 68, y: 373, sub: "3" }, { x: 68, y: 613, sub: "4" },
];
const colTitlePos = [233, 516, 802];
const rowTitlePos = [139, 376, 623];

function MathX({ x, y, sub, vertical }: any) {
  return (
    <div style={{ position: "absolute", left: x, top: y, transform: `translate(-50%,-50%)${vertical ? " rotate(-90deg)" : ""}`,
      font: 'italic 24px "DejaVu Serif", serif', lineHeight: "1", whiteSpace: "nowrap", color: "#000" }}>
      x<span style={{ fontStyle: "normal", fontSize: "16px", position: "relative", top: "6px" }}>{sub}</span>
    </div>
  );
}

export default function App() {
  return (
    <div style={{ position: "absolute", left: 0, top: 0, width: 914, height: 736, background: "#fff", overflow: "hidden" }}>
      {frames.map((f, i) => (
        <div key={"f" + i} style={{ position: "absolute", left: f[0], top: f[1], width: f[2], height: f[3], border: "1px solid #e2e2e2", boxSizing: "border-box" }} />
      ))}
      {panels.map((p) => <PanelCanvas key={p.id} p={p} />)}
      {xTitles.map((t, i) => <MathX key={"xt" + i} {...t} />)}
      {yTitles.map((t, i) => <MathX key={"yt" + i} {...t} vertical />)}
      {columnTitles.map((t, i) => (
        <div key={"c" + i} style={{ position: "absolute", left: colTitlePos[i], top: 17, transform: "translate(-50%,-50%)",
          font: 'italic 27px "Liberation Serif", serif', lineHeight: "1", whiteSpace: "nowrap", color: "#000" }}>{t}</div>
      ))}
      {rowTitles.map((t, i) => (
        <div key={"r" + i} style={{ position: "absolute", left: 30, top: rowTitlePos[i], transform: "translate(-50%,-50%) rotate(-90deg)",
          font: 'italic 30px "Liberation Serif", serif', wordSpacing: "5px", lineHeight: "1", whiteSpace: "nowrap", color: "#000" }}>{t}</div>
      ))}
    </div>
  );
}
